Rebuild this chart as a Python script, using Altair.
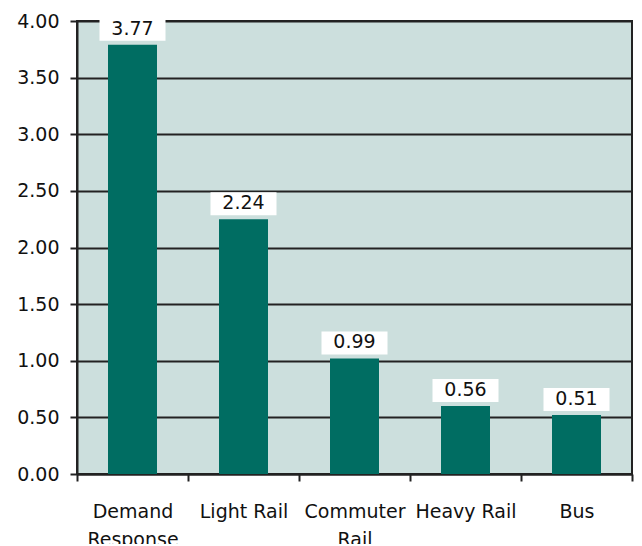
import altair as alt
import pandas as pd

categories = ["Demand Response", "Light Rail", "Commuter Rail", "Heavy Rail", "Bus"]
bar_values = [3.79, 2.25, 1.02, 0.60, 0.52]
labels = ["3.77", "2.24", "0.99", "0.56", "0.51"]

df = pd.DataFrame({"cat": categories, "bar": bar_values, "label": labels})

FONT = "DejaVu Sans"
INK = "#222222"

x = alt.X(
    "cat:N",
    sort=None,
    title=None,
    scale=alt.Scale(paddingInner=0, paddingOuter=0),
    axis=alt.Axis(
        labelAngle=0,
        tickBand="extent",
        grid=False,
        labelExpr="datum.label == 'Demand Response' ? ['Demand','Response'] : datum.label == 'Commuter Rail' ? ['Commuter','Rail'] : datum.label",
        labelPadding=21,
        labelLineHeight=28,
        labelBaseline="top",
        tickSize=7,
    ),
)

y = alt.Y(
    "bar:Q",
    title=None,
    scale=alt.Scale(domain=[0, 4], nice=False),
    axis=alt.Axis(values=[0, 0.5, 1, 1.5, 2, 2.5, 3, 3.5, 4], format=".2f", grid=True, tickSize=7, labelPadding=11),
)

bars = alt.Chart(df).mark_bar(width=49, color="#006D62").encode(x=x, y=y)

boxes = alt.Chart(df).mark_bar(width=66, color="white", yOffset=-4, y2Offset=-27).encode(
    x=x, y=y, y2=alt.Y2("bar")
)

texts = alt.Chart(df).mark_text(dy=-16, baseline="middle", fontSize=19, font=FONT, color="#111111").encode(
    x=x, y=y, text="label:N"
)

chart = (
    alt.layer(bars, boxes, texts)
    .properties(
        width=555,
        height=453,
        autosize=alt.AutoSizeParams(type="none"),
        padding={"left": 69, "top": 13, "right": 2, "bottom": 70},
        background="white",
    )
    .configure_view(fill="#CCDFDD", stroke=INK, strokeWidth=2)
    .configure_axis(
        labelFont=FONT,
        labelFontSize=19,
        labelColor="#111111",
        domainColor=INK,
        domainWidth=2,
        tickColor=INK,
        tickWidth=2,
        gridColor=INK,
        gridWidth=2,
        gridOpacity=1,
    )
)

chart.save("out.html", embed_options={"renderer": "svg", "actions": False})
